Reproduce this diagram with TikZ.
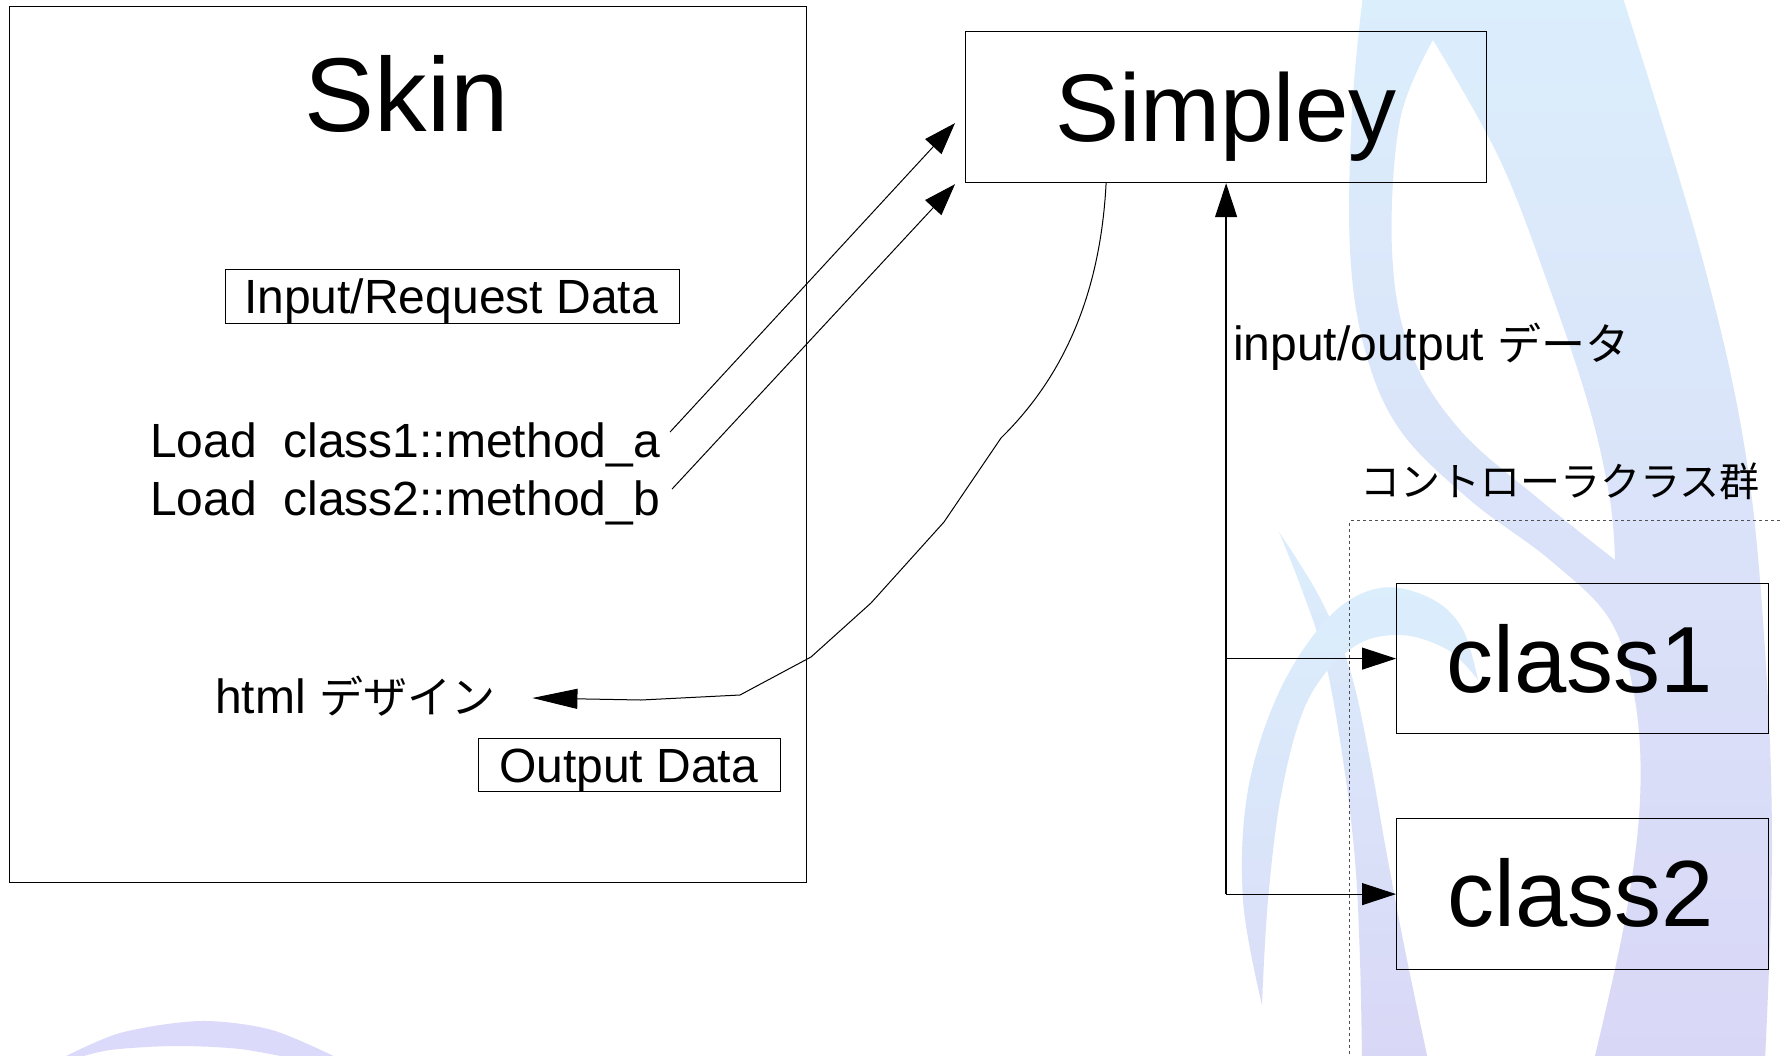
\documentclass[tikz,border=0pt]{standalone}
\usepackage{fontspec}
\setmainfont{Liberation Sans}
\newfontfamily\jp{Noto Sans CJK JP}
\usetikzlibrary{arrows.meta,calc}
\definecolor{wmtop}{RGB}{219,238,252}
\definecolor{wmbot}{RGB}{217,215,246}
\definecolor{wmlav}{RGB}{220,218,250}
\definecolor{dashgray}{RGB}{80,80,80}
\tikzset{
  box/.style={draw=black, line width=1.2pt, inner sep=0pt},
  lbl/.style={inner sep=0pt, font=\fontsize{48}{56}\selectfont},
  conn/.style={line width=1pt, draw=black},
  tipA/.style={-{Triangle[length=32pt,width=22pt]}},
  tipB/.style={-{Triangle[length=45pt,width=20pt]}},
  tipC/.style={-{Triangle[length=34pt,width=22pt]}},
  groupbox/.style={draw=dashgray, dash pattern=on 3pt off 3pt, line width=1.1pt, inner sep=0pt}
}
\begin{document}
\begin{tikzpicture}[x=1pt,y=-1pt]
\useasboundingbox (0,0) rectangle (1783,1055);
\fill[white] (0,0) rectangle (1783,1055);
\begin{scope}
\clip (0,0) rectangle (1783,1055);
% ---- watermark ----
\shade[top color=wmtop, bottom color=wmbot, even odd rule]
  plot[smooth, tension=0.6] coordinates {(1363,-5) (1352,110) (1350,250) (1365,350) (1400,430) (1470,500) (1550,560) (1610,620) (1635,700) (1640,800) (1625,920) (1594,1060)}
  -- (1765,1060)
  -- plot[smooth, tension=0.6] coordinates {(1765,1060) (1772,850) (1765,650) (1745,450) (1700,250) (1622,-5)}
  -- cycle
  plot[smooth, tension=0.6] coordinates {(1433,40) (1400,120) (1392,250) (1410,350) (1460,430) (1540,500) (1615,560)}
  -- plot[smooth, tension=0.6] coordinates {(1615,560) (1610,500) (1590,410) (1552,295) (1500,160) (1433,40)}
  -- cycle;
\shade[top color=wmtop, bottom color=wmbot]
  plot[smooth, tension=0.6] coordinates {(1279,532) (1302,590) (1325,660) (1343,760) (1355,860) (1360,960) (1362,1060)}
  -- (1428,1060)
  -- plot[smooth, tension=0.6] coordinates {(1428,1060) (1405,950) (1386,850) (1370,760) (1350,670) (1320,598) (1279,532)}
  -- cycle;
\shade[top color=wmtop, bottom color=wmbot!70!wmtop]
  plot[smooth, tension=0.6] coordinates {(1262,1005) (1243,900) (1248,790) (1280,690) (1330,616) (1380,588) (1430,598) (1462,628) (1478,680)}
  -- plot[smooth, tension=0.6] coordinates {(1478,680) (1448,650) (1400,635) (1352,648) (1308,700) (1282,790) (1268,900) (1262,1005)}
  -- cycle;
\fill[wmlav]
  plot[smooth] coordinates {(58,1060) (120,1033) (200,1021) (272,1030) (342,1060)}
  -- plot[smooth] coordinates {(300,1060) (240,1049) (175,1046) (110,1050) (70,1060)}
  -- cycle;
% ---- dashed group ----
\node[groupbox, minimum width=500pt, minimum height=600pt, anchor=north west] (group) at (1349,520) {};
\end{scope}
% ---- Skin ----
\node[box, minimum width=797pt, minimum height=876pt, anchor=north west] (skin) at (9,6) {};
\node[lbl, anchor=base, font=\fontsize{105}{110}\selectfont] (skint) at (407,131) {Skin};
\node[box, minimum width=454pt, minimum height=54pt, anchor=north west] (inreq) at (225,269) {};
\node[lbl, anchor=base west] (inreqt) at (244,313) {Input/Request Data};
\node[lbl, anchor=base west] (loada) at (150,457) {Load\ \ class1::method\_a};
\node[lbl, anchor=base west] (loadb) at (150,515) {Load\ \ class2::method\_b};
\node[lbl, anchor=base west] (html) at (215,713) {html {\jp\fontsize{44}{50}\selectfont デザイン}};
\node[box, minimum width=302pt, minimum height=53pt, anchor=north west] (outd) at (478,738) {};
\node[lbl, anchor=base west] (outdt) at (499,782) {Output Data};
% ---- Simpley ----
\node[box, minimum width=521pt, minimum height=151pt, anchor=north west] (simpley) at (965,31) {};
\node[lbl, anchor=base, font=\fontsize{96}{100}\selectfont] (simpleyt) at (1226,141) {Simpley};
% ---- right side ----
\node[lbl, anchor=base west] (io) at (1233,360) {input/output {\jp\fontsize{44}{50}\selectfont データ}};
\node[lbl, anchor=base west] (grp) at (1360,496) {{\jp\fontsize{40}{46}\selectfont コントローラクラス群}};
\node[box, minimum width=372pt, minimum height=150pt, anchor=north west] (c1) at (1396,583) {};
\node[lbl, anchor=base, font=\fontsize{94}{100}\selectfont] (c1t) at (1580,692) {class1};
\node[box, minimum width=372pt, minimum height=151pt, anchor=north west] (c2) at (1396,818) {};
\node[lbl, anchor=base, font=\fontsize{94}{100}\selectfont] (c2t) at (1581,926) {class2};
% ---- connectors ----
\coordinate (t1) at ($(simpley.west)+(-10,16)$);
\coordinate (t2) at ($(simpley.south west)+(-10,1)$);
\coordinate (htmltip) at ($(html.base east)+(37,-15)$);
\draw[conn, tipA] ($(loada.base east)+(10,-25)$) -- (t1);
\draw[conn, tipA] ($(loadb.base east)+(12,-26)$) -- (t2);
\draw[conn, tipB] ($(simpley.south)+(-120,0)$) .. controls (1100,300) and (1060,380) .. (1001,438)
  -- (944,522) -- (871,603) -- (811,657) -- (740,695) -- (641,700) -- (htmltip);
\draw[conn, line width=1.3pt, tipC] (c2.west -| simpley.south) -- (simpley.south);
\draw[conn, tipC] (c1.west -| simpley.south) -- (c1.west);
\draw[conn, tipC] (c2.west -| simpley.south) -- (c2.west);
\end{tikzpicture}
\end{document}
